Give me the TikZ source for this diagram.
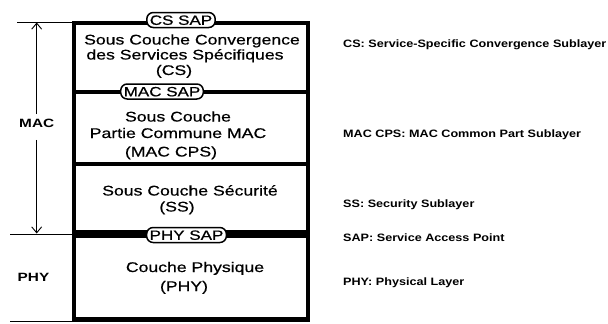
\documentclass[tikz,border=0pt]{standalone}
\usepackage{fontspec}
\setmainfont{Liberation Sans}
\newfontfamily\boxfont[FakeStretch=1.26,FakeBold=0.6]{Liberation Sans}
\newfontfamily\keyfont[FakeStretch=1.18]{Liberation Sans}
\newfontfamily\sidefont[FakeStretch=1.28]{Liberation Sans}
\usetikzlibrary{arrows.meta}
\begin{document}
\begin{tikzpicture}[x=1bp,y=-1bp,
  txt/.style={font=\boxfont\fontsize{14bp}{16bp}\selectfont, inner sep=0pt, anchor=base},
  key/.style={font=\keyfont\bfseries\fontsize{10.7bp}{12bp}\selectfont, inner sep=0pt, anchor=base west},
  side/.style={font=\sidefont\bfseries\fontsize{12bp}{14bp}\selectfont, inner xsep=0pt, inner ysep=5bp, text depth=7bp, anchor=base},
  sap/.style={draw, fill=white, line width=1.5bp, rounded corners=6.5bp, font=\boxfont\fontsize{13.5bp}{15bp}\selectfont, inner xsep=3bp, inner ysep=0pt, minimum height=15bp, text height=9.7bp, text depth=0pt},
  frame/.style={line width=4.5bp},
  sep/.style={line width=4bp},
  thinline/.style={line width=0.9bp},
  arr/.style={thinline, -{Straight Barb[length=6bp,width=10bp]}},
]
\useasboundingbox (0,0) rectangle (608,323);
% frame and separators
\draw[frame] (74,23) rectangle (308,319.5);
\draw[sep] (74,91.5) -- (308,91.5);
\draw[sep] (74,164) -- (308,164);
\draw[line width=8bp] (74,233.5) -- (308,233.5);
% thin side lines
\draw[thinline] (17,22) -- (74,22);
\draw[thinline] (10,234) -- (74,234);
\draw[thinline] (10,321) -- (74,321);
% side labels and arrow
\node[side] (mac) at (36.7,127.7) {MAC};
\node[side] (phy) at (33.5,281.5) {PHY};
\coordinate (mactop) at (36.7,22.5);
\coordinate (macbot) at (36.7,233.5);
\draw[arr] (mac.north) -- (mactop);
\draw[arr] (mac.south) -- (macbot);
% layer texts
\node[txt] (cs1) at (192,44.5) {Sous Couche Convergence};
\node[txt] (cs2) at (185,59.5) {des Services Spécifiques};
\node[txt] (cs3) at (174,75) {(CS)};
\node[txt] (mc1) at (178,121.5) {Sous Couche};
\node[txt] (mc2) at (178,138) {Partie Commune MAC};
\node[txt] (mc3) at (171,156.5) {(MAC CPS)};
\node[txt] (ss1) at (190,195.5) {Sous Couche Sécurité};
\node[txt] (ss2) at (177,211.5) {(SS)};
\node[txt] (ph1) at (195,272) {Couche Physique};
\node[txt] (ph2) at (184,291) {(PHY)};
% SAP labels
\node[sap] (cssap) at (181,20) {CS SAP};
\node[sap] (macsap) at (162,91.5) {MAC SAP};
\node[sap] (physap) at (186.5,235) {PHY SAP};
% legend
\node[key] (kcs) at (343,47) {CS: Service-Specific Convergence Sublayer};
\node[key] (kmac) at (343,137) {MAC CPS: MAC Common Part Sublayer};
\node[key] (kss) at (343,207) {SS: Security Sublayer};
\node[key] (ksap) at (343,241) {SAP: Service Access Point};
\node[key] (kphy) at (343,285) {PHY: Physical Layer};
\end{tikzpicture}
\end{document}
